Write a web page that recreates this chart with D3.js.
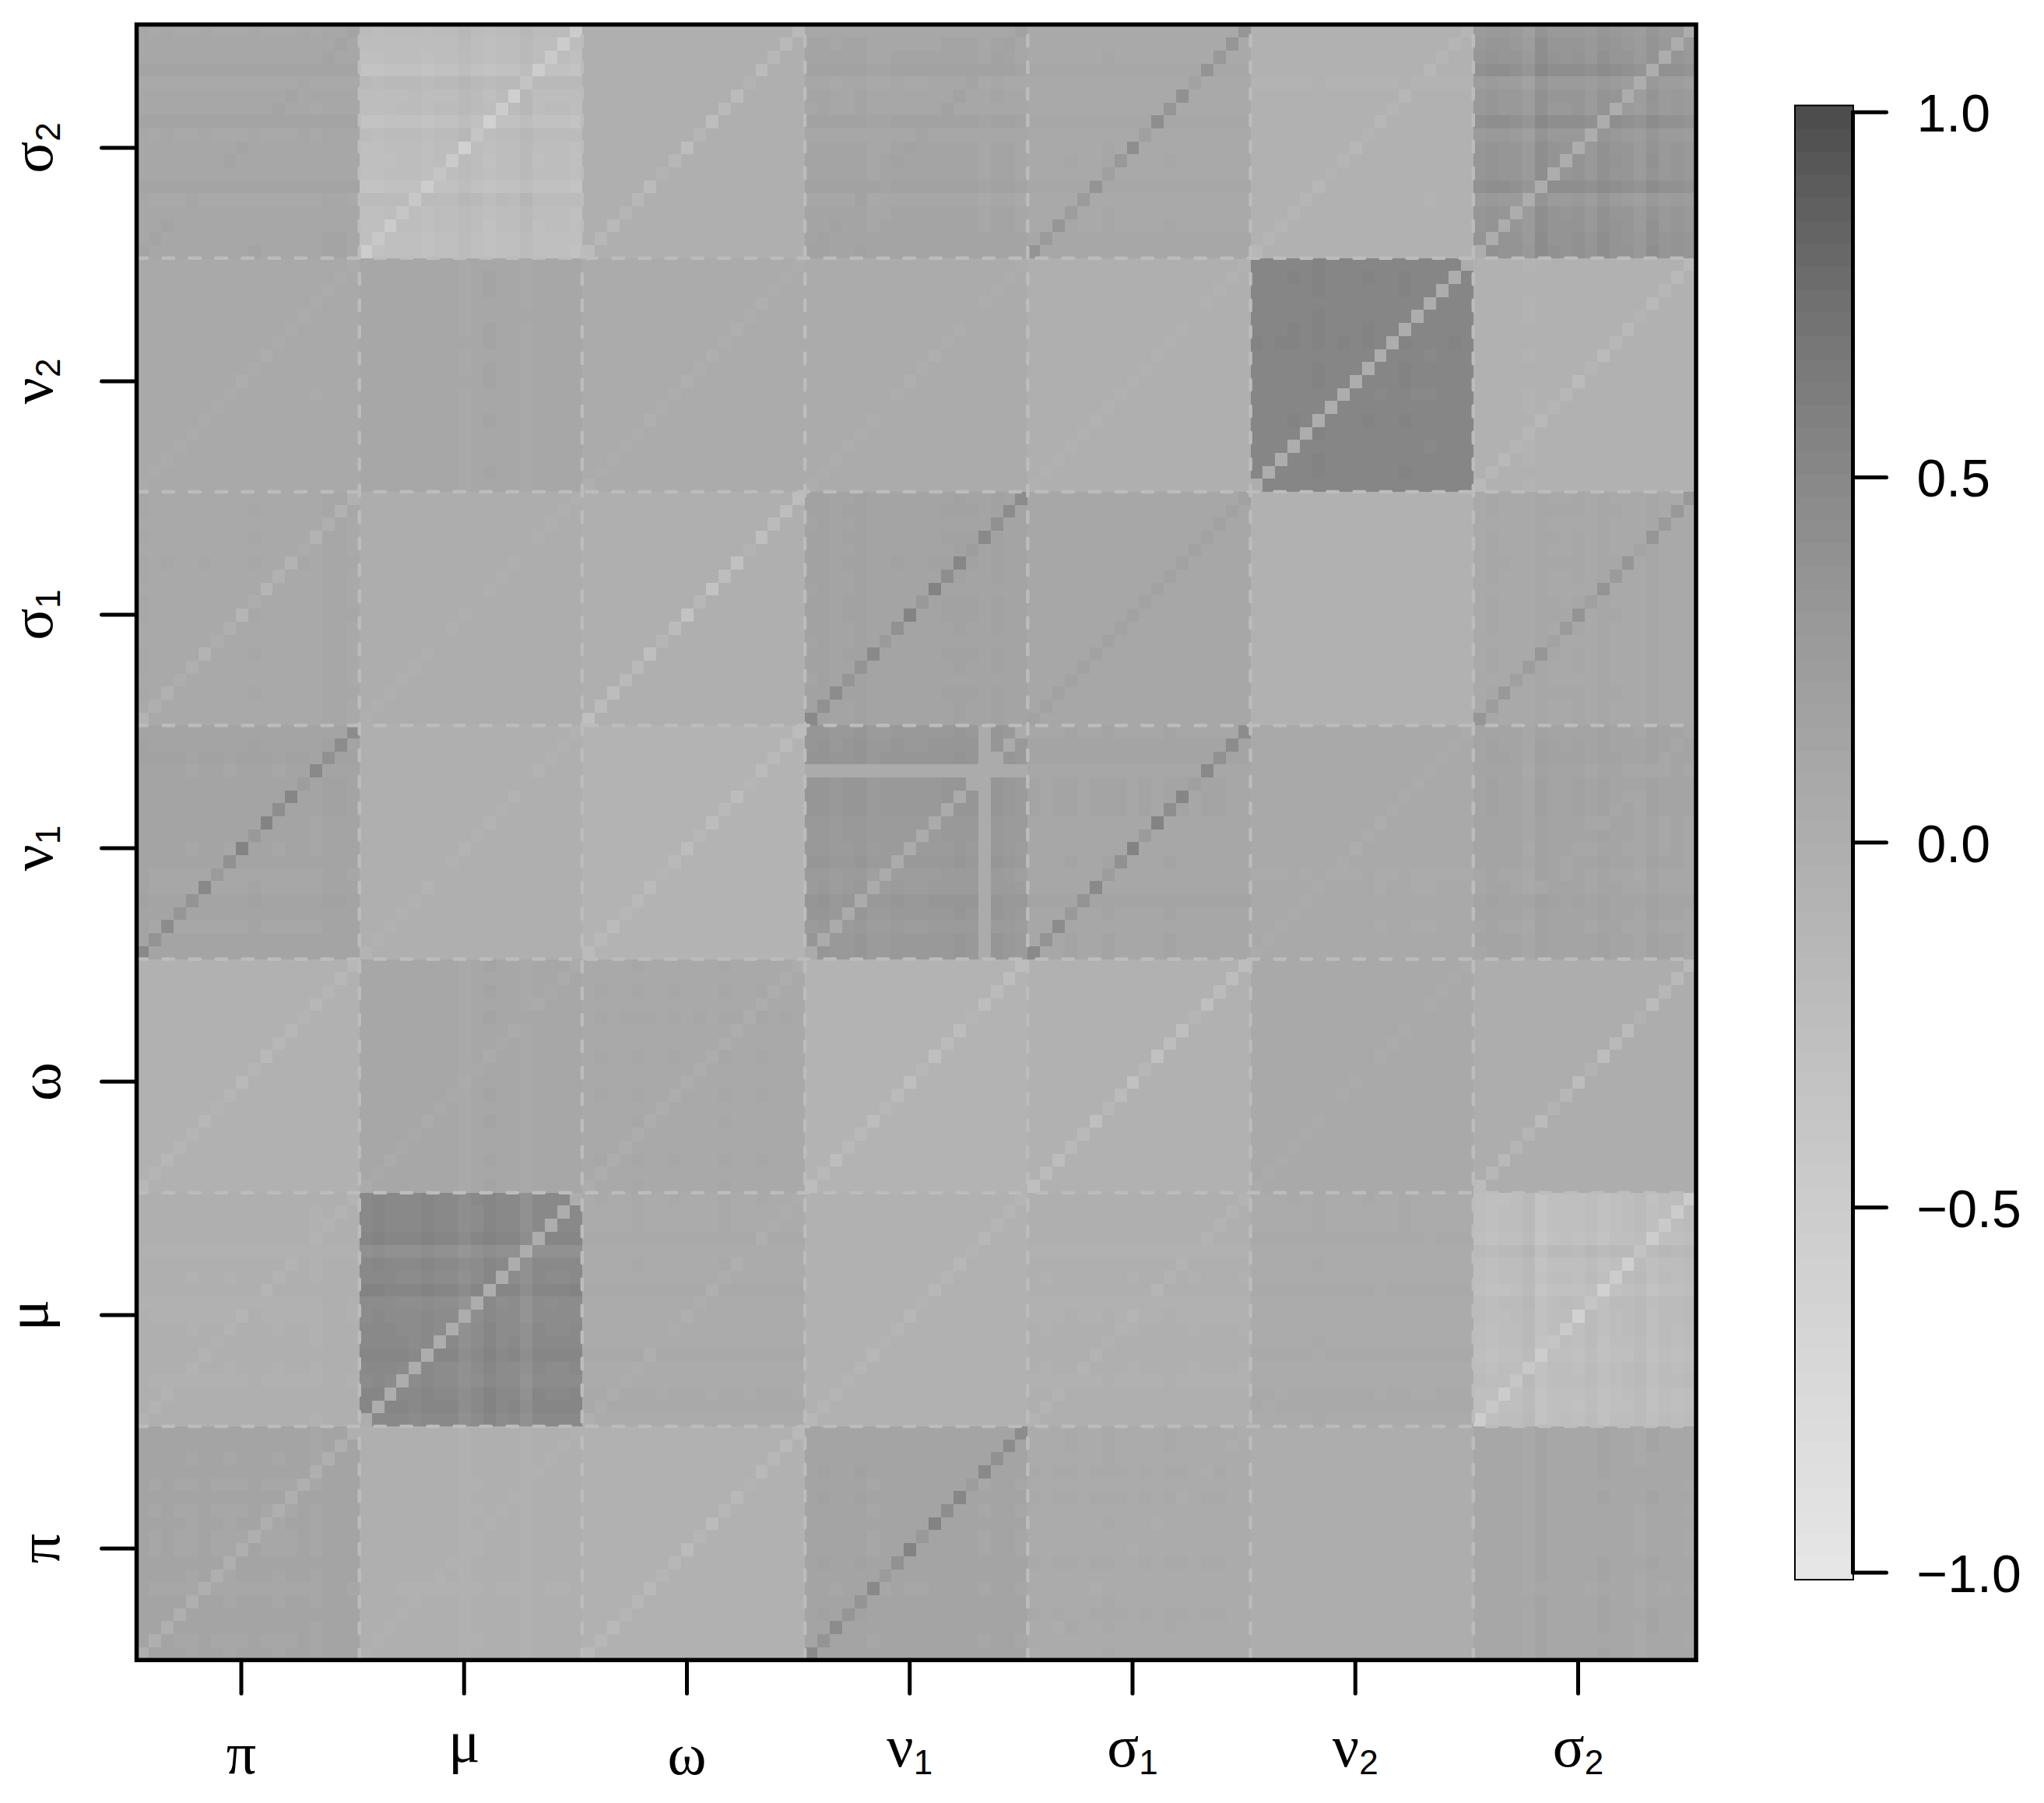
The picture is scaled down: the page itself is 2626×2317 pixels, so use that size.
<!DOCTYPE html>
<html>
<head>
<meta charset="utf-8">
<script src="https://cdn.jsdelivr.net/npm/d3@7"></script>
<style>
body { margin: 0; background: #fff; }
</style>
</head>
<body>
<div id="chart"></div>
<script>
// parameters, left to right and bottom to top
const paramSymbols = ["π", "μ", "ω", "ν", "σ", "ν", "σ"]
const paramSubs = ["", "", "", "1", "1", "2", "2"]
const cellsPerParam = 18
const legendTicks = [-1, -0.5, 0, 0.5, 1]

// mean correlation of each block, [y parameter][x parameter]
const blockMeans = [
  [0.13, -0.03, -0.06, 0.14, 0.06, 0.02, 0.11],
  [-0.03, 0.47, 0.06, -0.05, -0.03, 0.06, -0.24],
  [-0.06, 0.11, 0.09, -0.08, -0.05, 0.08, 0.01],
  [0.14, -0.01, -0.07, 0.29, 0.12, 0.07, 0.14],
  [0.09, 0.01, -0.02, 0.15, 0.11, -0.06, 0.09],
  [0.07, 0.11, 0.04, 0.05, -0.02, 0.52, -0.06],
  [0.11, -0.24, -0.02, 0.13, 0.09, -0.06, 0.33]
]

// the value on the diagonal stripe of each block
const diagMeans = [
  [-0.01, -0.04, -0.16, 0.45, 0.03, 0.02, 0.10],
  [-0.08, 0.00, 0.00, -0.12, -0.08, 0.05, -0.50],
  [-0.14, 0.06, 0.00, -0.22, -0.24, 0.05, -0.18],
  [0.45, -0.06, -0.20, 0.04, 0.44, 0.04, 0.12],
  [-0.06, -0.01, -0.25, 0.45, 0.18, -0.06, 0.30],
  [0.04, 0.10, 0.00, 0.01, -0.05, 0.00, -0.16],
  [0.13, -0.50, -0.18, 0.17, 0.34, -0.12, 0.00]
]

// how strongly each stripe cell shows, top right to bottom left
const diagWeights = [1, 1, 0.8, 1.1, 0.3, 1.2, 0.9, 1.3, 0.5, 1.3, 0.8, 0.4, 1.1, 0.7, 0.6, 1, 0.75, 1.1]

// row shading by parameter, top to bottom inside a block
const rowShades = [
  [0.03, 0.03, 0.02, 0.05, 0.00, 0.05, 0.00, 0.02, 0.00, 0.00, 0.05, 0.02, -0.03, 0.02, 0.05, 0.03, 0.00, 0.02],
  [0.04, 0.03, 0.03, 0.10, -0.14, 0.03, 0.00, 0.12, -0.05, -0.03, 0.00, 0.02, 0.08, 0.00, -0.03, 0.06, 0.08, 0.02],
  [0.02, 0.00, 0.03, 0.01, 0.04, 0.00, -0.02, 0.03, 0.01, 0.00, 0.03, -0.01, 0.02, 0.00, 0.01, 0.03, 0.00, 0.02],
  [0.08, 0.12, 0.15, 0.02, 0.10, 0.10, 0.10, 0.05, 0.05, 0.02, 0.08, -0.02, 0.00, 0.12, 0.08, 0.00, 0.08, 0.08],
  [0.02, 0.04, 0.00, 0.03, 0.01, 0.05, 0.02, 0.00, 0.03, 0.04, 0.01, 0.00, 0.03, 0.02, 0.00, 0.04, 0.01, 0.02],
  [0.02, 0.04, 0.03, 0.00, 0.02, 0.04, 0.05, 0.00, 0.03, 0.03, -0.01, 0.01, 0.04, 0.02, 0.00, 0.02, 0.03, 0.01],
  [-0.05, 0.02, 0.05, 0.20, -0.12, 0.00, -0.02, 0.20, -0.05, 0.05, 0.06, 0.05, 0.20, -0.08, 0.05, 0.06, 0.10, 0.12]
]

// column shading by parameter, left to right inside a block
const colShades = [
  [0.06, 0.02, 0.03, 0.02, 0.00, 0.03, 0.02, 0.00, 0.02, 0.05, 0.02, 0.00, 0.02, 0.03, -0.02, 0.08, 0.08, 0.04],
  [0.06, 0.08, 0.05, 0.03, 0.02, 0.08, 0.03, 0.03, -0.10, 0.01, 0.12, 0.02, 0.04, -0.14, 0.05, 0.03, 0.04, 0.06],
  [0.01, 0.03, 0.00, 0.02, 0.04, 0.02, 0.00, 0.03, 0.01, 0.02, 0.00, 0.04, 0.02, 0.00, 0.03, 0.01, 0.02, 0.00],
  [0.10, 0.12, 0.04, 0.08, 0.12, 0.00, 0.03, 0.06, 0.04, 0.04, 0.06, 0.08, 0.10, 0.08, 0.00, 0.10, 0.05, 0.00],
  [0.02, 0.00, 0.03, 0.04, 0.01, 0.02, 0.05, 0.02, 0.00, 0.03, 0.01, 0.04, 0.02, 0.00, 0.03, 0.02, 0.01, 0.00],
  [0.03, 0.02, 0.03, 0.04, 0.02, 0.06, 0.02, 0.03, 0.02, 0.04, 0.01, 0.03, 0.05, 0.01, 0.00, 0.02, 0.03, 0.02],
  [0.02, 0.08, 0.04, 0.02, -0.12, 0.22, 0.06, 0.05, 0.08, -0.02, 0.14, 0.05, 0.00, -0.08, 0.12, -0.02, 0.02, -0.05]
]

// the pale cross inside the nu1 by nu1 block
const nu1Param = 3
const nu1PaleRow = 3
const nu1PaleCol = 14
const nu1PaleCells = [[4, 13], [4, 14]]
const nu1PaleValue = 0.06


const svgWidth = 2626
const svgHeight = 2317
const nParams = paramSymbols.length
const nCells = nParams * cellsPerParam

const svg = d3.select("#chart")
              .append("svg")
              .attr("width", svgWidth)
              .attr("height", svgHeight)
              .style("display", "block")

const plotLeft = 175.5, plotRight = 2179, plotTop = 31.5, plotBottom = 2133.3

const x = d3.scaleBand().domain(d3.range(nCells)).range([plotLeft, plotRight])
const y = d3.scaleBand().domain(d3.range(nCells)).range([plotTop, plotBottom])

// R's gray.colors(64, 0.3, 0.9, gamma = 2.2) reversed, low is pale
const nColors = 64
const colors = d3.range(nColors).map(i => {
    const t = i / (nColors - 1)
    const g = Math.pow(Math.pow(0.9, 2.2) + (Math.pow(0.3, 2.2) - Math.pow(0.9, 2.2)) * t, 1 / 2.2)
    const v = Math.round(g * 255)
    return d3.rgb(v, v, v).formatHex()
})
const color = d3.scaleQuantize().domain([-1, 1]).range(colors)

const rowCentres = rowShades.map(d => d3.mean(d))
const colCentres = colShades.map(d => d3.mean(d))

const cellValue = (C, R) => {
    const xp = Math.floor(C / cellsPerParam), c = C % cellsPerParam
    const yp = nParams - 1 - Math.floor(R / cellsPerParam), r = R % cellsPerParam
    const mean = blockMeans[yp][xp]
    if (c + r === cellsPerParam - 1) {
        const weight = xp === yp ? 1 : diagWeights[r]
        return mean + (diagMeans[yp][xp] - mean) * weight
    }
    if (xp === nu1Param && yp === nu1Param) {
        if (r === nu1PaleRow || c === nu1PaleCol || nu1PaleCells.some(d => d[0] === r && d[1] === c)) {
            return nu1PaleValue
        }
    }
    // stripes flip with the sign of the block and fade in weak blocks
    const shade = rowShades[yp][r] - rowCentres[yp] + colShades[xp][c] - colCentres[xp]
    const strength = Math.min(1, Math.pow(Math.abs(mean) / 0.22, 2))
    const gain = Math.sign(mean) * strength * 0.45 + 0.05
    return mean + shade * gain
}

const cells = []
d3.range(nCells).forEach(R => d3.range(nCells).forEach(C => cells.push({C: C, R: R, value: cellValue(C, R)})))

svg.append("g")
   .selectAll("rect")
   .data(cells)
   .enter()
   .append("rect")
   .attr("x", d => x(d.C))
   .attr("y", d => y(d.R))
   .attr("width", x.bandwidth() + 0.5)
   .attr("height", y.bandwidth() + 0.5)
   .attr("shape-rendering", "crispEdges")
   .attr("fill", d => color(d.value))

// dashed block separators, both start from the axis corner
const splits = d3.range(1, nParams).map(k => k * cellsPerParam)
const dashStyle = sel => sel.attr("stroke", "#bcbcbc")
                            .attr("stroke-width", 4.5)
                            .attr("stroke-dasharray", "13.5 20.5")
                            .attr("stroke-linecap", "round")
                            .attr("fill", "none")

svg.append("g").selectAll("line")
   .data(splits)
   .enter()
   .append("line")
   .attr("x1", plotLeft).attr("x2", plotRight)
   .attr("y1", d => y(d)).attr("y2", d => y(d))
   .call(dashStyle)

svg.append("g").selectAll("line")
   .data(splits)
   .enter()
   .append("line")
   .attr("x1", d => x(d)).attr("x2", d => x(d))
   .attr("y1", plotBottom).attr("y2", plotTop)
   .call(dashStyle)

svg.append("rect")
   .attr("x", plotLeft).attr("y", plotTop)
   .attr("width", plotRight - plotLeft).attr("height", plotBottom - plotTop)
   .attr("fill", "none")
   .attr("stroke", "#000")
   .attr("stroke-width", 5.5)

// greek tick labels, the baselines differ per glyph like in the original
const labelLift = [9, -6, 10, 0, 0, 0, 0]
const paramIds = d3.range(nParams)
const tickX = d3.scalePoint().domain(paramIds).range([310, 2027.5])
const tickY = d3.scalePoint().domain(paramIds).range([1990, 190])

const writeLabel = (text) => {
    text.each(function(d) {
        const t = d3.select(this).text(null)
        t.append("tspan")
         .attr("font-family", "'Liberation Serif', serif")
         .attr("font-size", 76)
         .text(paramSymbols[d])
        if (paramSubs[d]) {
            t.append("tspan")
             .attr("font-family", "'Liberation Sans', sans-serif")
             .attr("font-size", 44)
             .attr("dy", 10)
             .text(paramSubs[d])
        }
    })
}

const styleAxis = (g) => {
    g.select(".domain").remove()
    g.selectAll(".tick line")
     .attr("stroke", "#000")
     .attr("stroke-width", 5)
     .attr("stroke-linecap", "round")
}

const xAxis = svg.append("g")
   .attr("transform", `translate(0,${plotBottom})`)
   .call(d3.axisBottom(tickX).tickSize(43).offset(0))
   .call(styleAxis)

xAxis.selectAll(".tick text")
   .attr("y", d => 2270 + labelLift[d] - plotBottom)
   .attr("dy", 0)
   .attr("fill", "#000")
   .attr("text-anchor", "middle")
   .call(writeLabel)

const yAxis = svg.append("g")
   .attr("transform", `translate(${plotLeft},0)`)
   .call(d3.axisLeft(tickY).tickSize(45).offset(0))
   .call(styleAxis)

yAxis.selectAll(".tick text")
   .attr("transform", "rotate(-90)")
   .attr("x", 0)
   .attr("y", d => 67 + labelLift[d] - plotLeft)
   .attr("dy", 0)
   .attr("fill", "#000")
   .attr("text-anchor", "middle")
   .call(writeLabel)

// colour key
const legendLeft = 2306, legendRight = 2381, legendTop = 135.5, legendBottom = 2030
const legendBands = d3.scaleBand()
    .domain(d3.range(nColors))
    .range([legendBottom, legendTop])

svg.append("g").selectAll("rect")
   .data(colors)
   .enter()
   .append("rect")
   .attr("x", legendLeft)
   .attr("y", (d, i) => legendBands(i))
   .attr("width", legendRight - legendLeft)
   .attr("height", legendBands.bandwidth() + 0.5)
   .attr("shape-rendering", "crispEdges")
   .attr("fill", d => d)

svg.append("rect")
   .attr("x", legendLeft).attr("y", legendTop)
   .attr("width", legendRight - legendLeft).attr("height", legendBottom - legendTop)
   .attr("fill", "none")
   .attr("stroke", "#000")
   .attr("stroke-width", 2)

const legendScale = d3.scaleLinear().domain([-1, 1]).range([2021, 144.3])

const legendAxis = svg.append("g")
   .attr("transform", `translate(${legendRight - 0.5},0)`)
   .call(d3.axisRight(legendScale)
           .tickValues(legendTicks)
           .tickSize(43)
           .tickSizeOuter(0)
           .offset(0)
           .tickFormat(d => d3.format(".1f")(d).replace("-", "−")))

legendAxis.select(".domain")
   .attr("stroke", "#000")
   .attr("stroke-width", 5)
   .attr("stroke-linecap", "round")

legendAxis.selectAll(".tick line")
   .attr("stroke", "#000")
   .attr("stroke-width", 5)
   .attr("stroke-linecap", "round")

legendAxis.selectAll(".tick text")
   .attr("x", 82)
   .attr("y", 25)
   .attr("dy", 0)
   .attr("fill", "#000")
   .attr("text-anchor", "start")
   .attr("font-family", "'Liberation Sans', sans-serif")
   .attr("font-size", 68)
</script>
</body>
</html>
